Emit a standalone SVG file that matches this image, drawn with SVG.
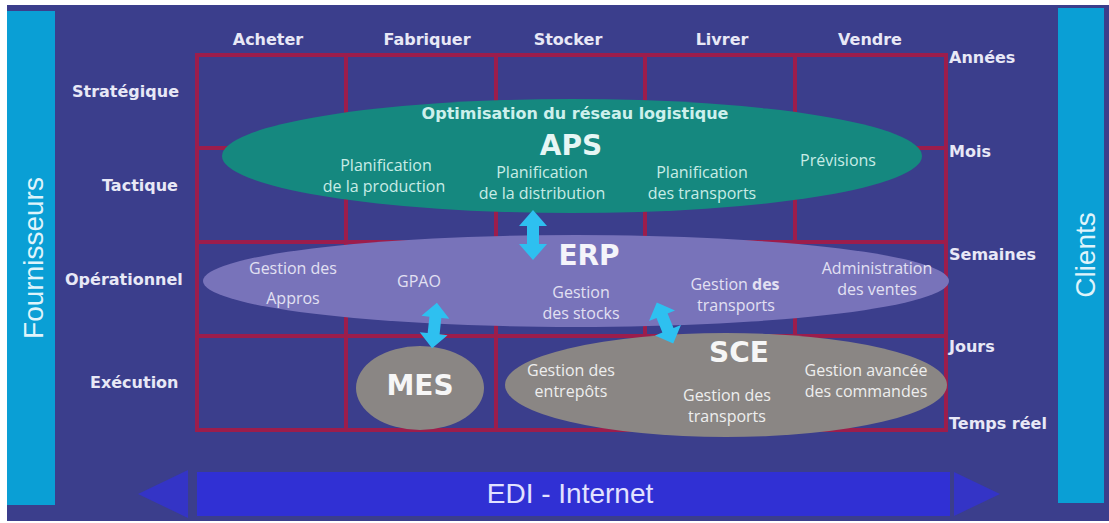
<svg xmlns="http://www.w3.org/2000/svg" width="1109" height="523" viewBox="0 0 1109 523">
<style>
.lbl{font-family:"DejaVu Sans",Verdana,sans-serif;font-weight:bold;font-size:16px;fill:#e8e8f6}
.big{font-family:"DejaVu Sans",Verdana,sans-serif;font-weight:bold;font-size:28px;text-anchor:middle}
.txt{font-family:"Open Sans","DejaVu Sans",sans-serif;font-size:16px;text-anchor:middle}
.side{font-family:"Liberation Sans",Arial,sans-serif;font-size:28px;fill:#dff4fb;text-anchor:middle}
.grid{fill:none;stroke:#9c1d4c;stroke-width:4}
.dbl{fill:#2ec0f0}
</style>
<defs>
<path id="dbl" d="M0,-25 L14,-9 L6,-9 L6,9 L14,9 L0,25 L-14,9 L-6,9 L-6,-9 L-14,-9 Z"/>
</defs>
<rect x="0" y="0" width="1109" height="523" fill="#ffffff"/>
<rect x="7" y="5" width="1102" height="516" fill="#3b3e8c"/>

<g id="fournisseurs">
<rect x="7" y="11" width="48" height="494" fill="#0a9fd5"/>
<text class="side" transform="translate(43,258) rotate(-90)">Fournisseurs</text>
</g>
<g id="clients">
<rect x="1058" y="8" width="46" height="495" fill="#0a9fd5"/>
<text class="side" transform="translate(1095,255) rotate(-90)">Clients</text>
</g>

<g id="grid">
<rect class="grid" x="197" y="55" width="749" height="375"/>
<path class="grid" d="M346,55V430M496,55V430M645,55V430M795,55V430M197,148H946M197,242H946M197,336H946"/>
</g>

<g id="headers" class="lbl">
<text x="268" y="45" text-anchor="middle">Acheter</text>
<text x="427" y="45" text-anchor="middle">Fabriquer</text>
<text x="568" y="45" text-anchor="middle">Stocker</text>
<text x="722" y="45" text-anchor="middle">Livrer</text>
<text x="870" y="45" text-anchor="middle">Vendre</text>
<text x="72" y="97">Stratégique</text>
<text x="102" y="191">Tactique</text>
<text x="65" y="285">Opérationnel</text>
<text x="90" y="388">Exécution</text>
<text x="949" y="63">Années</text>
<text x="949" y="157">Mois</text>
<text x="949" y="260">Semaines</text>
<text x="949" y="352">Jours</text>
<text x="949" y="429">Temps réel</text>
</g>

<g id="aps">
<ellipse cx="572" cy="156" rx="350" ry="57" fill="#15887f"/>
<text x="575" y="119" class="lbl" text-anchor="middle" style="fill:#cdf0ec">Optimisation du réseau logistique</text>
<text x="571" y="155" class="big" fill="#e6f6f4">APS</text>
<g class="txt" fill="#c8ece6">
<text x="386" y="171">Planification</text>
<text x="384" y="192">de la production</text>
<text x="542" y="178">Planification</text>
<text x="542" y="199">de la distribution</text>
<text x="702" y="178">Planification</text>
<text x="702" y="199">des transports</text>
<text x="838" y="166">Prévisions</text>
</g>
</g>

<g id="erp">
<ellipse cx="576" cy="281" rx="373" ry="46" fill="#7873ba"/>
<text x="589" y="265" class="big" fill="#f4f4fa">ERP</text>
<g class="txt" fill="#e2e0f2">
<text x="293" y="274">Gestion des</text>
<text x="293" y="304">Appros</text>
<text x="419" y="287">GPAO</text>
<text x="581" y="298">Gestion</text>
<text x="581" y="319">des stocks</text>
<text x="735" y="290">Gestion <tspan font-weight="bold">des</tspan></text>
<text x="736" y="311">transports</text>
<text x="877" y="274">Administration</text>
<text x="877" y="295">des ventes</text>
</g>
</g>

<g id="mes">
<ellipse cx="420" cy="388" rx="64" ry="42" fill="#8a8684"/>
<text x="420" y="395" class="big" fill="#f6f6f6">MES</text>
</g>

<g id="sce">
<ellipse cx="726" cy="385" rx="221" ry="52" fill="#8a8684"/>
<text x="739" y="362" class="big" fill="#f6f6f6">SCE</text>
<g class="txt" fill="#eeeeee">
<text x="571" y="376">Gestion des</text>
<text x="571" y="397">entrepôts</text>
<text x="727" y="401">Gestion des</text>
<text x="727" y="422">transports</text>
<text x="866" y="376">Gestion avancée</text>
<text x="866" y="397">des commandes</text>
</g>
</g>

<g id="connectors">
<use href="#dbl" class="dbl" transform="translate(533,235)"/>
<use href="#dbl" class="dbl" transform="translate(434.5,325.5) rotate(6) scale(1,0.92)"/>
<use href="#dbl" class="dbl" transform="translate(665,323) rotate(-22) scale(1,0.88)"/>
</g>

<g id="edi">
<rect x="197" y="472" width="753" height="44" fill="#3030d4"/>
<path d="M138,494 L188,470 L188,518 Z" fill="#3434c6"/>
<path d="M1000,494 L954,472 L954,516 Z" fill="#3434c6"/>
<text x="570" y="503" font-family="Liberation Sans, Arial, sans-serif" font-size="28" fill="#e2e2ff" text-anchor="middle">EDI - Internet</text>
</g>
</svg>
